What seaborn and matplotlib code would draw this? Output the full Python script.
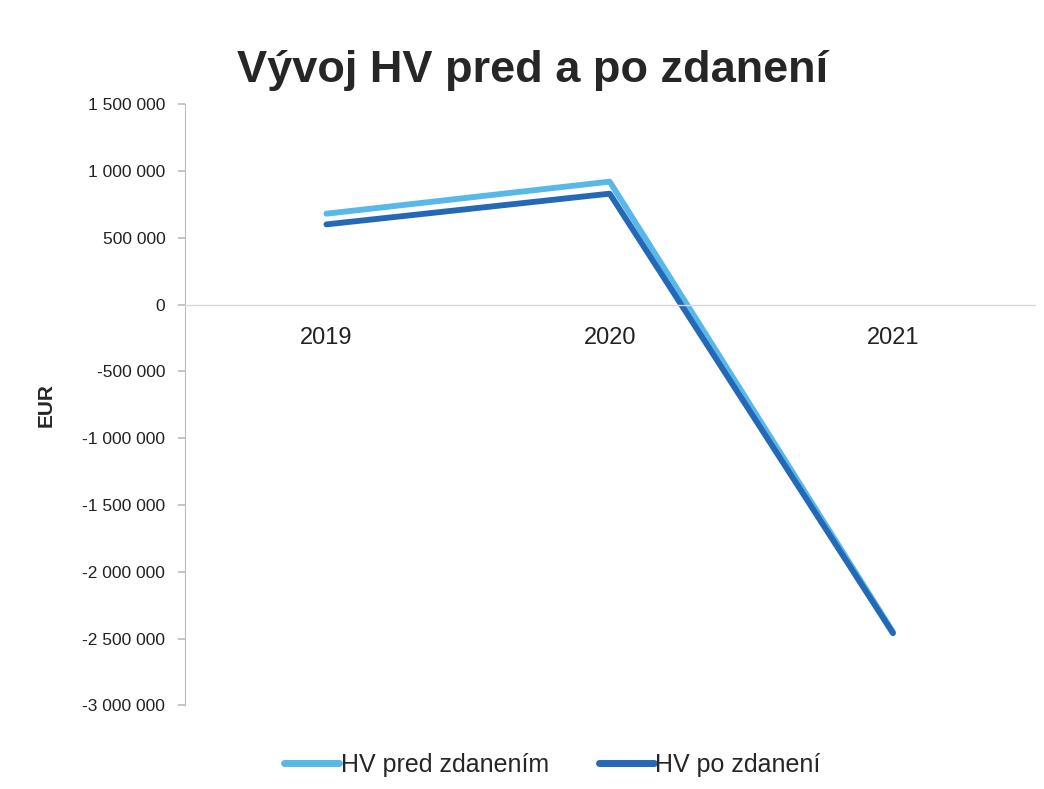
import matplotlib
matplotlib.use("Agg")
import matplotlib.pyplot as plt
import seaborn as sns
import pandas as pd
from matplotlib.ticker import FuncFormatter, MultipleLocator
from matplotlib.lines import Line2D

years = ["2019", "2020", "2021"]
hv_pred = [680000, 920000, -2450000]
hv_po = [600000, 830000, -2460000]
series_names = ["HV pred zdanením", "HV po zdanení"]

df = pd.DataFrame({
    "rok": years * 2,
    "EUR": hv_pred + hv_po,
    "séria": [series_names[0]] * 3 + [series_names[1]] * 3,
})

sns.set_theme(style="white")
plt.rcParams['font.family'] = ['Liberation Sans', 'DejaVu Sans']

fig = plt.figure(figsize=(10.44, 7.89), dpi=100)
ax = fig.add_axes([0.177, 0.106, 0.814, 0.762])

palette = {series_names[0]: "#58B8E8", series_names[1]: "#2468B8"}
sns.lineplot(data=df, x="rok", y="EUR", hue="séria", palette=palette,
             linewidth=4.2, ax=ax, legend=False, sort=False)

ax.set_xlim(-0.5, 2.5)
ax.set_ylim(-3000000, 1500000)
ax.yaxis.set_major_locator(MultipleLocator(500000))
ax.yaxis.set_major_formatter(FuncFormatter(lambda v, p: f"{int(v):,}".replace(",", " ")))

for s in ["top", "right"]:
    ax.spines[s].set_visible(False)
ax.spines["bottom"].set_position(("data", 0))
ax.spines["bottom"].set_color("#d8d8d8")
ax.spines["bottom"].set_linewidth(1.0)
ax.spines["left"].set_color("#bdbdbd")
ax.spines["left"].set_linewidth(0.8)

ax.tick_params(axis="y", left=True, length=5, color="#bdbdbd", labelsize=12.5, pad=9, labelcolor="#222222")
ax.tick_params(axis="x", bottom=False, labelsize=17, pad=10, labelcolor="#222222")
ax.set_xlabel("")
ax.set_ylabel("EUR", fontsize=15, fontweight="bold")
ax.yaxis.set_label_coords(-0.152, 0.5)
ax.grid(False)

fig.suptitle("Vývoj HV pred a po zdanení", fontsize=32.5, fontweight="bold", y=0.937, x=0.51)

handles = [Line2D([0], [0], color=palette[n], linewidth=5) for n in series_names]
fig.legend(handles, series_names, loc="center", ncol=2, frameon=False,
           fontsize=18, bbox_to_anchor=(0.529, 0.031), handlelength=2.2,
           handletextpad=0.05, columnspacing=2.0)

fig.savefig("out.png", dpi=100)
